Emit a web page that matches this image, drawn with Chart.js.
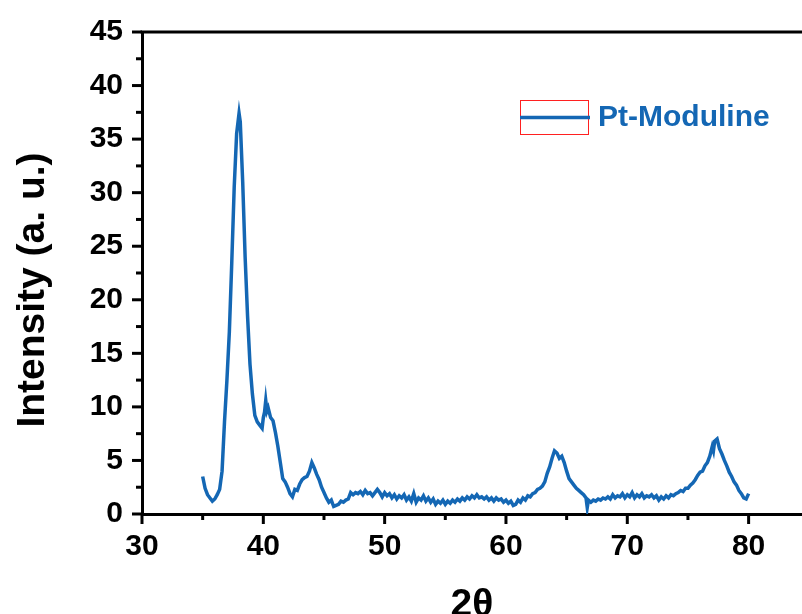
<!DOCTYPE html>
<html>
<head>
<meta charset="utf-8">
<script src="https://cdn.jsdelivr.net/npm/chart.js@4/dist/chart.umd.min.js"></script>
<style>
  html, body { margin: 0; padding: 0; background: #ffffff; }
  #wrap { width: 802px; height: 614px; }
</style>
</head>
<body>
<div id="wrap"><canvas id="c" width="802" height="614"></canvas></div>
<script>
// ---- data ----
const seriesLabel = 'Pt-Moduline';
const twoTheta = [
  35.0,35.2,35.4,35.6,35.8,36.0,36.2,36.4,36.6,36.8,37.0,37.2,37.4,37.6,37.8,38.0,38.1,38.3,38.5,38.7,
  38.9,39.1,39.3,39.5,39.7,39.9,40.0,40.1,40.2,40.3,40.4,40.6,40.8,41.0,41.2,41.4,41.6,41.8,42.0,42.2,
  42.4,42.6,42.8,43.0,43.2,43.4,43.6,43.8,44.0,44.2,44.4,44.6,44.8,45.0,45.2,45.4,45.6,45.8,46.0,46.2,
  46.4,46.6,46.8,47.0,47.2,47.4,47.6,47.8,48.0,48.2,48.4,48.6,48.8,49.0,49.2,49.4,49.6,49.8,50.0,50.2,
  50.4,50.6,50.8,51.0,51.2,51.4,51.6,51.8,52.0,52.2,52.4,52.6,52.8,53.0,53.2,53.4,53.6,53.8,54.0,54.2,
  54.4,54.6,54.8,55.0,55.2,55.4,55.6,55.8,56.0,56.2,56.4,56.6,56.8,57.0,57.2,57.4,57.6,57.8,58.0,58.2,
  58.4,58.6,58.8,59.0,59.2,59.4,59.6,59.8,60.0,60.2,60.4,60.6,60.8,61.0,61.2,61.4,61.6,61.8,62.0,62.2,
  62.4,62.6,62.8,63.0,63.2,63.4,63.6,63.8,64.0,64.2,64.4,64.6,64.8,65.0,65.2,65.4,65.6,65.8,66.0,66.2,
  66.4,66.6,66.7,66.8,67.0,67.2,67.4,67.6,67.8,68.0,68.2,68.4,68.6,68.8,69.0,69.2,69.4,69.6,69.8,70.0,
  70.2,70.4,70.6,70.8,71.0,71.2,71.4,71.6,71.8,72.0,72.2,72.4,72.6,72.8,73.0,73.2,73.4,73.6,73.8,74.0,
  74.2,74.4,74.6,74.8,75.0,75.2,75.4,75.6,75.8,76.0,76.2,76.4,76.6,76.8,77.0,77.1,77.2,77.4,77.6,77.8,
  78.0,78.2,78.4,78.6,78.8,79.0,79.2,79.4,79.6,79.8,80.0
];
const intensity = [
  3.5,2.4,1.8,1.5,1.2,1.4,1.8,2.3,4.0,8.6,12.5,17.0,23.5,30.5,35.5,37.4,36.6,31.0,24.0,18.5,
  14.0,11.2,9.2,8.6,8.3,8.0,9.0,9.5,10.6,9.6,9.9,9.0,8.7,7.6,6.3,4.8,3.3,3.0,2.5,1.9,
  1.6,2.3,2.2,2.8,3.2,3.4,3.5,4.0,4.8,4.3,3.7,3.2,2.5,2.0,1.5,1.1,1.3,0.7,0.8,0.9,
  1.2,1.1,1.3,1.4,2.0,1.8,2.0,1.9,2.1,1.8,2.2,1.9,2.0,1.7,2.0,2.3,2.0,1.6,2.0,1.7,
  1.9,1.5,1.8,1.4,1.7,1.5,1.8,1.3,1.6,1.2,1.9,1.1,1.5,1.3,1.7,1.2,1.5,1.1,1.4,0.9,
  1.2,1.0,1.3,0.9,1.2,1.0,1.3,1.1,1.4,1.2,1.5,1.3,1.6,1.4,1.7,1.5,1.8,1.5,1.6,1.4,
  1.6,1.3,1.5,1.2,1.5,1.3,1.4,1.1,1.3,1.0,1.2,0.8,0.9,1.3,1.1,1.5,1.3,1.7,1.6,1.9,
  2.0,2.3,2.4,2.6,3.0,3.8,4.4,5.2,5.9,5.7,5.2,5.4,4.8,4.0,3.3,3.0,2.7,2.4,2.2,2.0,
  1.8,1.5,0.6,1.3,1.1,1.3,1.2,1.4,1.3,1.5,1.4,1.6,1.4,1.8,1.5,1.7,1.6,1.9,1.5,1.8,
  1.6,2.0,1.5,1.8,1.6,1.9,1.5,1.7,1.6,1.8,1.5,1.7,1.3,1.6,1.4,1.7,1.5,1.8,1.7,1.9,
  2.0,2.2,2.1,2.4,2.4,2.7,2.9,3.2,3.6,3.9,4.0,4.5,4.8,5.4,6.3,5.9,6.8,7.0,6.1,5.6,
  5.0,4.5,3.9,3.5,3.0,2.7,2.2,1.9,1.5,1.4,1.9
];
const xTickValues = [30,35,40,45,50,55,60,65,70,75,80];
const yTickValues = [0,2.5,5,7.5,10,12.5,15,17.5,20,22.5,25,27.5,30,32.5,35,37.5,40,42.5,45];
const xTitle = '2θ';
const yTitle = 'Intensity (a. u.)';

// ---- style ----
const blue = '#1467b4';
const fontFam = '"Liberation Sans", Arial, sans-serif';

const points = twoTheta.map((x, i) => ({ x: x, y: intensity[i] }));

const decorPlugin = {
  id: 'decor',
  afterDraw(chart) {
    const ctx = chart.ctx;
    const a = chart.chartArea;
    const xs = chart.scales.x, ys = chart.scales.y;
    ctx.save();
    ctx.strokeStyle = '#000';
    ctx.lineWidth = 3;
    ctx.lineCap = 'butt';
    // top frame line
    ctx.beginPath();
    ctx.moveTo(a.left - 1.5, a.top);
    ctx.lineTo(a.right, a.top);
    ctx.stroke();
    // x ticks (outward)
    xs.ticks.forEach(t => {
      const px = xs.getPixelForValue(t.value);
      const len = (t.value % 10 === 0) ? 10 : 6;
      ctx.beginPath();
      ctx.moveTo(px, a.bottom);
      ctx.lineTo(px, a.bottom + len);
      ctx.stroke();
    });
    // y ticks (outward)
    ys.ticks.forEach(t => {
      const py = ys.getPixelForValue(t.value);
      const len = (t.value % 5 === 0) ? 10 : 6;
      ctx.beginPath();
      ctx.moveTo(a.left, py);
      ctx.lineTo(a.left - len, py);
      ctx.stroke();
    });
    // y title
    ctx.fillStyle = '#000';
    ctx.font = 'bold 39px ' + fontFam;
    ctx.textAlign = 'center';
    ctx.textBaseline = 'middle';
    ctx.translate(33, 290);
    ctx.rotate(-Math.PI / 2);
    ctx.fillText(yTitle, 0, 0);
    ctx.restore();

    // legend
    const ds = chart.data.datasets[0];
    ctx.save();
    ctx.strokeStyle = '#ff2020';
    ctx.lineWidth = 1;
    ctx.strokeRect(520.5, 100.5, 68, 34);
    ctx.strokeStyle = ds.borderColor;
    ctx.lineWidth = 3.5;
    ctx.beginPath();
    ctx.moveTo(520, 117.5);
    ctx.lineTo(590, 117.5);
    ctx.stroke();
    ctx.fillStyle = ds.borderColor;
    ctx.font = 'bold 30px ' + fontFam;
    ctx.textAlign = 'left';
    ctx.textBaseline = 'middle';
    ctx.fillText(ds.label, 598, 118);
    ctx.restore();
  }
};

new Chart(document.getElementById('c'), {
  type: 'line',
  data: {
    datasets: [{
      label: seriesLabel,
      data: points,
      borderColor: blue,
      backgroundColor: blue,
      borderWidth: 3.5,
      pointRadius: 0,
      tension: 0,
      fill: false
    }]
  },
  options: {
    responsive: false,
    animation: false,
    devicePixelRatio: 1,
    layout: { padding: { top: 32, left: 0, right: 0, bottom: 0 } },
    plugins: {
      legend: { display: false },
      tooltip: { enabled: false },
      title: { display: false }
    },
    scales: {
      x: {
        type: 'linear',
        min: 30,
        max: 84.4,
        afterBuildTicks: s => { s.ticks = xTickValues.map(v => ({ value: v })); },
        afterFit: s => { s.height = 100; s.paddingLeft = 0; s.paddingRight = 0; },
        grid: { display: false, drawTicks: false, drawOnChartArea: false },
        border: { display: true, color: '#000', width: 3 },
        ticks: {
          color: '#000',
          padding: 15,
          maxRotation: 0,
          autoSkip: false,
          font: { family: fontFam, size: 30, weight: 'bold' },
          callback: v => (v % 10 === 0 ? String(v) : '')
        },
        title: {
          display: true,
          text: xTitle,
          color: '#000',
          padding: 0,
          font: { family: fontFam, size: 39, weight: 'bold', lineHeight: 0.45 }
        }
      },
      y: {
        type: 'linear',
        min: 0,
        max: 45,
        afterBuildTicks: s => { s.ticks = yTickValues.map(v => ({ value: v })); },
        afterFit: s => { s.width = 142; s.paddingTop = 0; s.paddingBottom = 0; },
        grid: { display: false, drawTicks: false, drawOnChartArea: false },
        border: { display: true, color: '#000', width: 3 },
        ticks: {
          color: '#000',
          padding: 19,
          autoSkip: false,
          font: { family: fontFam, size: 30, weight: 'bold' },
          callback: v => (v % 5 === 0 ? String(v) : '')
        },
        title: { display: false }
      }
    }
  },
  plugins: [decorPlugin]
});
</script>
</body>
</html>
